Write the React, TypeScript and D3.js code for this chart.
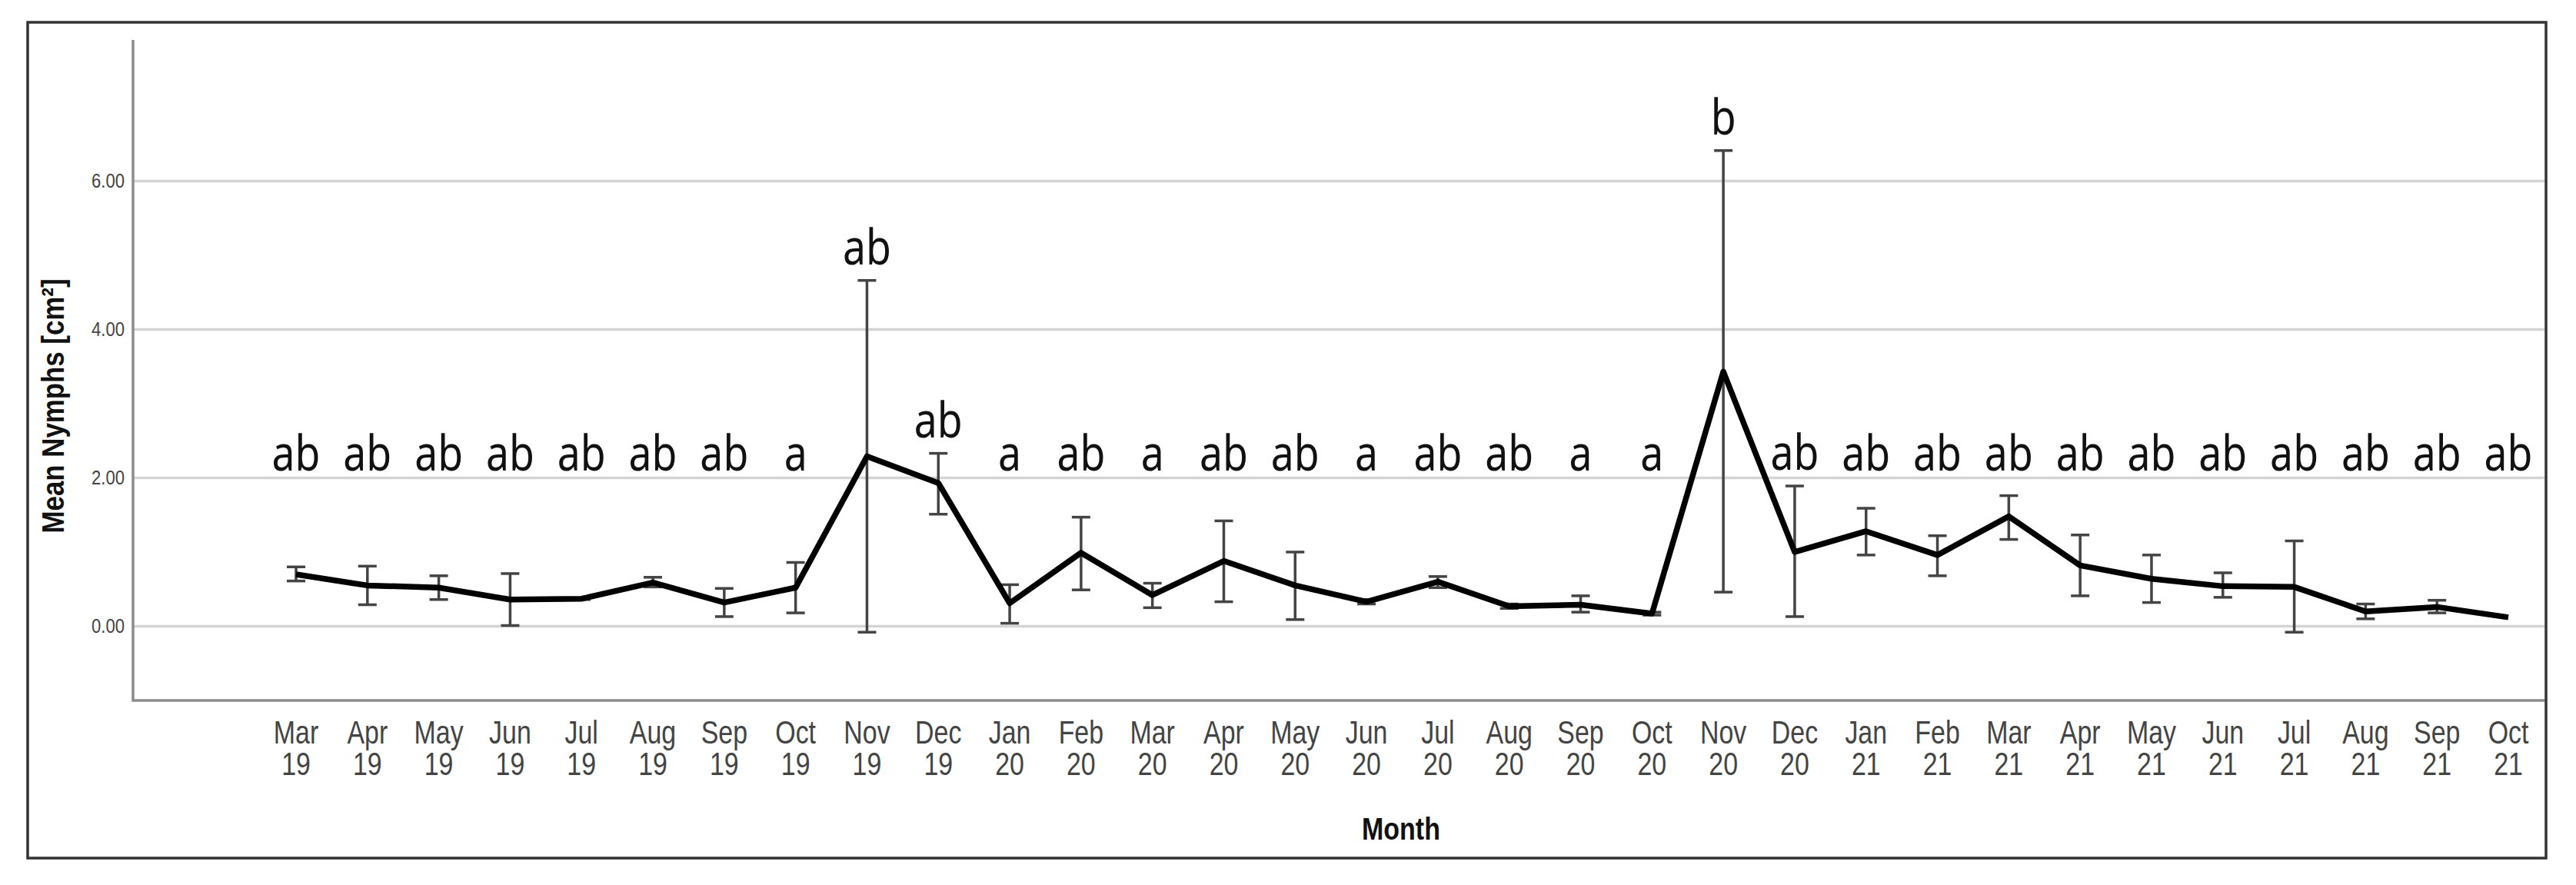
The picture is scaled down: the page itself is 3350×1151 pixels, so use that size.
import React, { useEffect, useRef } from "react";
import * as d3 from "d3";

const months = [
  "Mar 19", "Apr 19", "May 19", "Jun 19", "Jul 19", "Aug 19", "Sep 19", "Oct 19", "Nov 19", "Dec 19",
  "Jan 20", "Feb 20", "Mar 20", "Apr 20", "May 20", "Jun 20", "Jul 20", "Aug 20", "Sep 20", "Oct 20", "Nov 20", "Dec 20",
  "Jan 21", "Feb 21", "Mar 21", "Apr 21", "May 21", "Jun 21", "Jul 21", "Aug 21", "Sep 21", "Oct 21",
];
const means = [
  0.70, 0.55, 0.52, 0.36, 0.37, 0.59, 0.32, 0.52, 2.29, 1.93,
  0.31, 0.99, 0.42, 0.88, 0.55, 0.33, 0.60, 0.27, 0.29, 0.17, 3.43, 1.00,
  1.28, 0.96, 1.48, 0.82, 0.64, 0.54, 0.53, 0.20, 0.26, 0.12,
];
const lower = [
  0.61, 0.29, 0.36, 0.01, 0.36, 0.53, 0.13, 0.18, -0.08, 1.51,
  0.04, 0.49, 0.25, 0.33, 0.09, 0.30, 0.52, 0.24, 0.19, 0.15, 0.46, 0.13,
  0.96, 0.68, 1.17, 0.41, 0.32, 0.39, -0.08, 0.10, 0.18, 0.12,
];
const upper = [
  0.80, 0.81, 0.68, 0.71, 0.38, 0.66, 0.51, 0.86, 4.66, 2.33,
  0.56, 1.47, 0.58, 1.42, 1.00, 0.36, 0.67, 0.30, 0.41, 0.19, 6.41, 1.89,
  1.59, 1.22, 1.76, 1.23, 0.96, 0.72, 1.15, 0.30, 0.35, 0.12,
];
const letters = [
  "ab", "ab", "ab", "ab", "ab", "ab", "ab", "a", "ab", "ab",
  "a", "ab", "a", "ab", "ab", "a", "ab", "ab", "a", "a", "b", "ab",
  "ab", "ab", "ab", "ab", "ab", "ab", "ab", "ab", "ab", "ab",
];
const yTicks = [0, 2, 4, 6];
const yLabel = "Mean Nymphs [cm²]";
const xLabel = "Month";
const letterBaseValue = 2.1;

const W = 3350;
const H = 1151;
const SX = 0.85;

export default function App() {
  const ref = useRef<SVGSVGElement | null>(null);

  useEffect(() => {
    document.body.style.margin = "0";
    const svg = d3.select(ref.current);
    svg.selectAll("*").remove();

    const plotLeft = 173;
    const plotRight = 3309;
    const plotTop = 52;
    const plotBottom = 911;

    const x = d3.scalePoint<string>().domain(months).range([385, 3262]);
    const y = d3.scaleLinear().domain([-1, 7.9]).range([plotBottom, plotTop]);

    svg.append("rect").attr("width", W).attr("height", H).attr("fill", "#fff");

    // outer frame
    svg.append("rect")
      .attr("x", 36).attr("y", 29).attr("width", 3311 - 36).attr("height", 1116 - 29)
      .attr("fill", "none").attr("stroke", "#333").attr("stroke-width", 3.5);

    // gridlines
    svg.append("g").selectAll("line").data(yTicks).join("line")
      .attr("x1", plotLeft).attr("x2", plotRight)
      .attr("y1", (d) => y(d)).attr("y2", (d) => y(d))
      .attr("stroke", "#d4d4d4").attr("stroke-width", 3.5);

    // axes
    svg.append("path")
      .attr("d", `M${plotLeft},${plotTop}V${plotBottom}H${plotRight}`)
      .attr("fill", "none").attr("stroke", "#8c8c8c").attr("stroke-width", 3.5);

    // y tick labels
    svg.append("g").selectAll("text").data(yTicks).join("text")
      .attr("transform", (d) => `translate(162,${y(d) + 9}) scale(${SX},1)`)
      .attr("text-anchor", "end")
      .attr("font-family", "'Liberation Sans', Arial, sans-serif")
      .attr("font-size", 26)
      .attr("fill", "#444")
      .text((d) => d3.format(".2f")(d));

    // y axis title
    svg.append("text")
      .attr("transform", `translate(83,528) rotate(-90) scale(${SX},1)`)
      .attr("text-anchor", "middle")
      .attr("font-family", "'Liberation Sans', Arial, sans-serif")
      .attr("font-weight", "bold")
      .attr("font-size", 41)
      .attr("fill", "#111")
      .text(yLabel);

    // x tick labels
    const xl = svg.append("g").selectAll("g").data(months).join("g")
      .attr("transform", (d) => `translate(${x(d)},0)`);
    xl.append("text")
      .attr("transform", `translate(0,967) scale(${SX * 0.95},1)`)
      .attr("text-anchor", "middle")
      .attr("font-family", "'Liberation Sans', Arial, sans-serif")
      .attr("font-size", 42)
      .attr("fill", "#444")
      .text((d) => d.split(" ")[0]);
    xl.append("text")
      .attr("transform", `translate(0,1008) scale(${SX * 0.95},1)`)
      .attr("text-anchor", "middle")
      .attr("font-family", "'Liberation Sans', Arial, sans-serif")
      .attr("font-size", 42)
      .attr("fill", "#444")
      .text((d) => d.split(" ")[1]);

    // x axis title
    svg.append("text")
      .attr("transform", `translate(1822,1092) scale(${SX},1)`)
      .attr("text-anchor", "middle")
      .attr("font-family", "'Liberation Sans', Arial, sans-serif")
      .attr("font-weight", "bold")
      .attr("font-size", 40)
      .attr("fill", "#111")
      .text(xLabel);

    const rows = months.map((m, i) => ({ m, mean: means[i], lo: lower[i], hi: upper[i], letter: letters[i] }));

    // error bars
    const eb = svg.append("g").attr("stroke", "#444").attr("stroke-width", 3.5);
    rows.forEach((r) => {
      if (r.hi - r.lo < 0.001) return;
      const cx = x(r.m)!;
      eb.append("line").attr("x1", cx).attr("x2", cx).attr("y1", y(r.lo)).attr("y2", y(r.hi));
      eb.append("line").attr("x1", cx - 12).attr("x2", cx + 12).attr("y1", y(r.lo)).attr("y2", y(r.lo));
      eb.append("line").attr("x1", cx - 12).attr("x2", cx + 12).attr("y1", y(r.hi)).attr("y2", y(r.hi));
    });

    // mean line
    const line = d3.line<any>().x((d) => x(d.m)!).y((d) => y(d.mean));
    svg.append("path").datum(rows)
      .attr("d", line)
      .attr("fill", "none").attr("stroke", "#000").attr("stroke-width", 7.5)
      .attr("stroke-linejoin", "round");

    // letters
    svg.append("g").selectAll("text").data(rows).join("text")
      .attr("transform", (d) => `translate(${x(d.m)},${Math.min(y(letterBaseValue), y(d.hi) - 21)}) scale(${SX},1)`)
      .attr("text-anchor", "middle")
      .attr("font-family", "'Noto Sans', 'Open Sans', sans-serif")
      .attr("font-size", 63)
      .attr("fill", "#111")
      .text((d) => d.letter);
  }, []);

  return <svg ref={ref} width={W} height={H} style={{ display: "block" }} />;
}
